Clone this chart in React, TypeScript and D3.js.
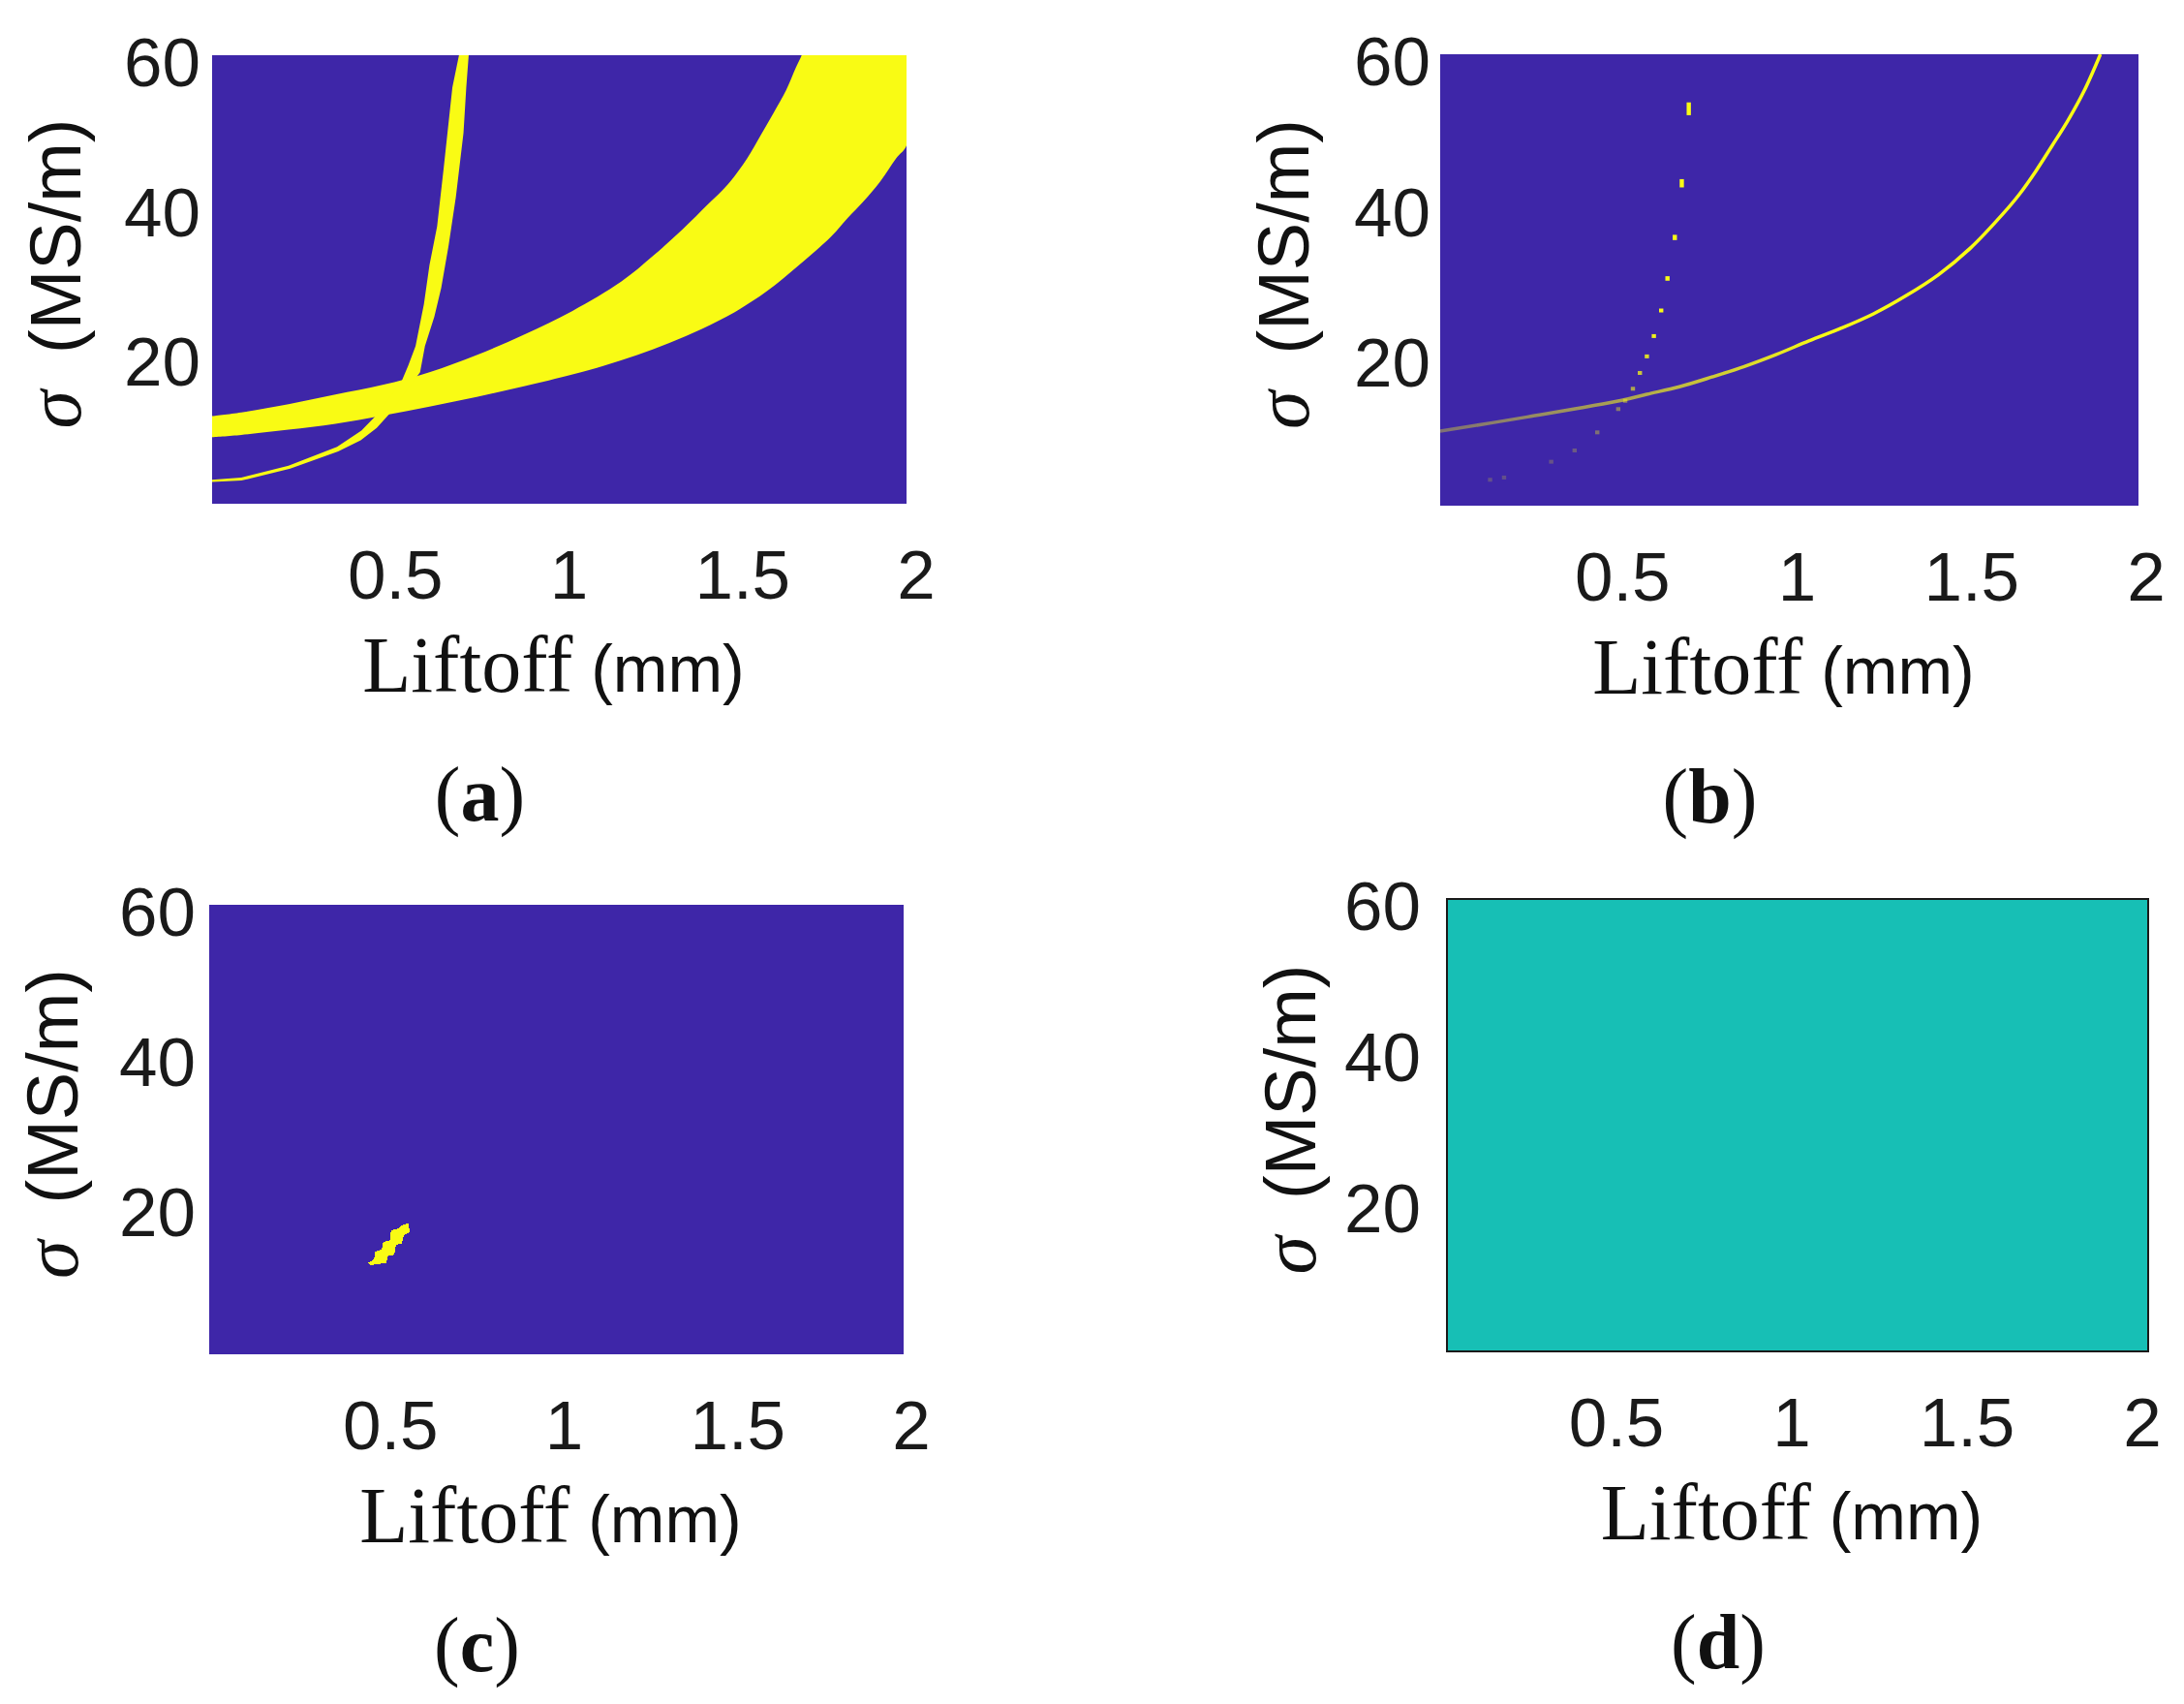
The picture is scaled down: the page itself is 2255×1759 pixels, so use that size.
// Four-panel liftoff / conductivity solution maps
import React, { useEffect, useRef } from 'react';
import * as d3 from 'd3';

type Pt = [number, number];

// axis ticks shared by every panel
const LIFTOFF_TICKS = [0.5, 1, 1.5, 2];
const SIGMA_TICKS = [20, 40, 60];
const LIFTOFF_RANGE: Pt = [0, 2];
const SIGMA_RANGE: Pt = [0.5, 60.5];

// (a) wide solution band: upper and lower edges, [liftoff mm, sigma MS/m]
const bandUpperA: Pt[] = [
  [0, 12.2], [0.084, 12.7], [0.22, 13.8], [0.355, 15.1], [0.491, 16.4], [0.626, 18.1],
  [0.762, 20.4], [0.898, 23.1], [1.038, 26.3], [1.178, 30.2], [1.271, 33.7], [1.355, 37.2],
  [1.429, 40.6], [1.485, 43.2], [1.541, 46.7], [1.579, 49.7], [1.616, 52.7], [1.653, 55.8],
  [1.681, 58.8], [1.698, 60.5], [1.71, 62]
];
const bandLowerA: Pt[] = [
  [0, 9.4], [0.084, 9.7], [0.22, 10.4], [0.355, 11.2], [0.491, 12.3], [0.626, 13.5],
  [0.762, 14.8], [0.898, 16.2], [1.038, 17.8], [1.131, 19.0], [1.224, 20.4], [1.317, 22.0],
  [1.411, 23.9], [1.504, 26.1], [1.597, 28.9], [1.690, 32.4], [1.784, 36.3], [1.830, 38.7],
  [1.877, 41.0], [1.924, 43.6], [1.970, 46.7], [2.0, 48.4]
];

// (a) steep narrow band: left/upper edge top->bottom, then right/lower edge bottom->top
const steepOuterA: Pt[] = [
  [0.711, 60.5], [0.692, 56.2], [0.667, 45.4], [0.648, 37.6], [0.626, 32.4], [0.610, 27.2],
  [0.586, 21.6], [0.565, 19.0], [0.545, 16.8], [0.47, 12.2], [0.43, 10.3], [0.36, 8.1],
  [0.22, 5.6], [0.084, 4.0], [0, 3.7]
];
const steepInnerA: Pt[] = [
  [0, 3.4], [0.084, 3.6], [0.225, 5.2], [0.363, 7.5], [0.428, 9.0], [0.474, 10.65],
  [0.51, 12.5], [0.599, 18.1], [0.613, 21.6], [0.640, 25.5], [0.660, 29.4], [0.681, 35.0],
  [0.702, 41.5], [0.724, 50.1], [0.732, 56.2], [0.739, 60.5]
];

// (b) thin solution curve
const curveB: Pt[] = [
  [0, 10.4], [0.25, 12.3], [0.52, 14.5], [0.592, 15.3], [0.685, 16.3], [0.778, 17.6],
  [0.871, 19.0], [0.963, 20.6], [1.056, 22.4], [1.149, 24.1], [1.241, 26.0], [1.334, 28.4],
  [1.427, 31.2], [1.520, 34.8], [1.612, 39.3], [1.659, 41.9], [1.705, 44.9], [1.752, 48.3],
  [1.798, 51.7], [1.844, 55.6], [1.891, 60.5]
];
// (b) isolated cells of the steep branch: liftoff, sigma low, sigma high, strength
const dotLiftoffB = [0.712, 0.692, 0.672, 0.651, 0.633, 0.612, 0.592, 0.572, 0.552, 0.530, 0.510, 0.45, 0.385, 0.318, 0.183, 0.143];
const dotSigmaLowB = [52.4, 42.8, 35.8, 30.4, 26.2, 22.9, 20.2, 18.0, 15.9, 14.3, 13.2, 10.2, 7.8, 6.3, 4.2, 3.9];
const dotSigmaHighB = [54.1, 43.9, 36.5, 31.0, 26.7, 23.3, 20.6, 18.4, 16.3, 14.7, 13.6, 10.5, 8.1, 6.6, 4.5, 4.2];
const dotStrengthB = [1, 1, 1, 1, 1, 0.95, 0.85, 0.75, 0.6, 0.45, 0.4, 0.35, 0.25, 0.22, 0.2, 0.2];

// (c) single solution island
const islandC: Pt[] = [
  [0.458, 12.7], [0.475, 13.2], [0.478, 14.2], [0.497, 14.5], [0.501, 15.5], [0.520, 15.7],
  [0.524, 17.05], [0.547, 17.3], [0.552, 17.7], [0.575, 18.0], [0.577, 16.8], [0.561, 16.4],
  [0.555, 15.3], [0.538, 15.1], [0.533, 13.8], [0.515, 13.6], [0.510, 12.7], [0.464, 12.4]
];

// (d) uniform map value
const uniformValueD = 0.5;

const colorAt = d3.scaleLinear<string>()
  .domain([0, 0.5, 1])
  .range(['#3E26A8', '#17BFB5', '#F9FB14']);

const PANELS = [
  { id: 'a', left: 219, top: 57, width: 717, height: 463, tickDx: 10, tickGap: 12 },
  { id: 'b', left: 1487, top: 56, width: 721, height: 466, tickDx: 8, tickGap: 10 },
  { id: 'c', left: 216, top: 934, width: 717, height: 464, tickDx: 8, tickGap: 14 },
  { id: 'd', left: 1494, top: 928, width: 724, height: 467, tickDx: -6, tickGap: 27 }
];

const SANS = '"Liberation Sans", Arial, sans-serif';
const SERIF = '"Liberation Serif", "Times New Roman", serif';

const App: React.FC = () => {
  const svgRef = useRef<SVGSVGElement>(null);

  useEffect(() => {
    if (!svgRef.current) return;
    const svg = d3.select(svgRef.current);
    svg.selectAll('*').remove();
    const defs = svg.append('defs');

    PANELS.forEach(p => {
      const x = d3.scaleLinear().domain(LIFTOFF_RANGE).range([p.left, p.left + p.width]);
      const y = d3.scaleLinear().domain(SIGMA_RANGE).range([p.top + p.height, p.top]);

      defs.append('clipPath').attr('id', `clip-${p.id}`)
        .append('rect')
        .attr('x', p.left).attr('y', p.top)
        .attr('width', p.width).attr('height', p.height);

      const plot = svg.append('g').attr('clip-path', `url(#clip-${p.id})`);
      plot.append('rect')
        .attr('x', p.left).attr('y', p.top)
        .attr('width', p.width).attr('height', p.height)
        .attr('fill', colorAt(p.id === 'd' ? uniformValueD : 0));

      const smooth = d3.line<Pt>().x(d => x(d[0])).y(d => y(d[1])).curve(d3.curveCatmullRom.alpha(0.5));
      const straight = d3.line<Pt>().x(d => x(d[0])).y(d => y(d[1]));

      if (p.id === 'a') {
        const lowerBack = [[2.05, 62] as Pt, ...bandLowerA.slice().reverse()];
        const band = (smooth(bandUpperA) || '') + (smooth(lowerBack) || '').replace(/^M/, 'L') + 'Z';
        plot.append('path').attr('d', band).attr('fill', colorAt(1));
        plot.append('path')
          .attr('d', (straight([...steepOuterA, ...steepInnerA]) || '') + 'Z')
          .attr('fill', colorAt(1));
      }

      if (p.id === 'b') {
        const grad = defs.append('linearGradient')
          .attr('id', 'fadeB')
          .attr('gradientUnits', 'userSpaceOnUse')
          .attr('x1', x(0)).attr('x2', x(1.1)).attr('y1', 0).attr('y2', 0);
        [[0, 0.35], [0.5, 0.6], [1, 1]].forEach(([o, a]) => {
          grad.append('stop').attr('offset', o).attr('stop-color', colorAt(1)).attr('stop-opacity', a);
        });
        plot.append('path')
          .attr('d', smooth(curveB))
          .attr('fill', 'none')
          .attr('stroke', 'url(#fadeB)')
          .attr('stroke-width', 3.5);

        plot.selectAll('rect.cell')
          .data(dotLiftoffB.map((l, i) => ({ l, lo: dotSigmaLowB[i], hi: dotSigmaHighB[i], s: dotStrengthB[i] })))
          .enter()
          .append('rect')
          .attr('class', 'cell')
          .attr('x', d => x(d.l) - 2.2)
          .attr('width', 4.4)
          .attr('y', d => y(d.hi))
          .attr('height', d => Math.max(4, y(d.lo) - y(d.hi)))
          .attr('fill', colorAt(1))
          .attr('opacity', d => d.s);
      }

      if (p.id === 'c') {
        plot.append('path')
          .attr('d', (straight(islandC) || '') + 'Z')
          .attr('fill', colorAt(1))
          .attr('shape-rendering', 'crispEdges');
      }

      if (p.id === 'd') {
        svg.append('rect')
          .attr('x', p.left).attr('y', p.top)
          .attr('width', p.width).attr('height', p.height)
          .attr('fill', 'none')
          .attr('stroke', '#1a1a1a')
          .attr('stroke-width', 2);
      }

      // tick labels
      svg.append('g').selectAll('text')
        .data(SIGMA_TICKS)
        .enter()
        .append('text')
        .attr('x', p.left - p.tickGap)
        .attr('y', d => y(d) + 4)
        .attr('text-anchor', 'end')
        .attr('dominant-baseline', 'central')
        .attr('font-family', SANS)
        .attr('font-size', 71)
        .attr('fill', '#1a1a1a')
        .text(d => d);

      svg.append('g').selectAll('text')
        .data(LIFTOFF_TICKS)
        .enter()
        .append('text')
        .attr('x', d => x(d) + p.tickDx)
        .attr('y', p.top + p.height + 98)
        .attr('text-anchor', 'middle')
        .attr('font-family', SANS)
        .attr('font-size', 71)
        .attr('fill', '#1a1a1a')
        .text(d => d);

      // x axis title
      const cx = p.left + p.width / 2;
      const xt = svg.append('text')
        .attr('x', cx - 6)
        .attr('y', p.top + p.height + 194)
        .attr('text-anchor', 'middle')
        .attr('fill', '#111');
      xt.append('tspan').attr('font-family', SERIF).attr('font-size', 82).text('Liftoff');
      xt.append('tspan').attr('font-family', SANS).attr('font-size', 68).text(' (mm)');

      // y axis title
      const cy = p.top + p.height / 2 - 6;
      const yt = svg.append('text')
        .attr('transform', `translate(${p.left - 136},${cy}) rotate(-90)`)
        .attr('text-anchor', 'middle')
        .attr('fill', '#111');
      yt.append('tspan').attr('font-family', SERIF).attr('font-style', 'italic').attr('font-size', 80).text('σ');
      yt.append('tspan').attr('font-family', SANS).attr('font-size', 74).attr('dx', 38).text('(MS/m)');

      // panel letter
      const lt = svg.append('text')
        .attr('x', cx - 82)
        .attr('y', p.top + p.height + 327)
        .attr('text-anchor', 'middle')
        .attr('font-family', SERIF)
        .attr('font-size', 80)
        .attr('fill', '#111');
      lt.append('tspan').text('(');
      lt.append('tspan').attr('font-weight', 'bold').text(p.id);
      lt.append('tspan').text(')');
    });
  }, []);

  return (
    <svg
      ref={svgRef}
      width={2255}
      height={1759}
      style={{ position: 'absolute', left: 0, top: 0, background: '#fff' }}
    />
  );
};

export default App;
